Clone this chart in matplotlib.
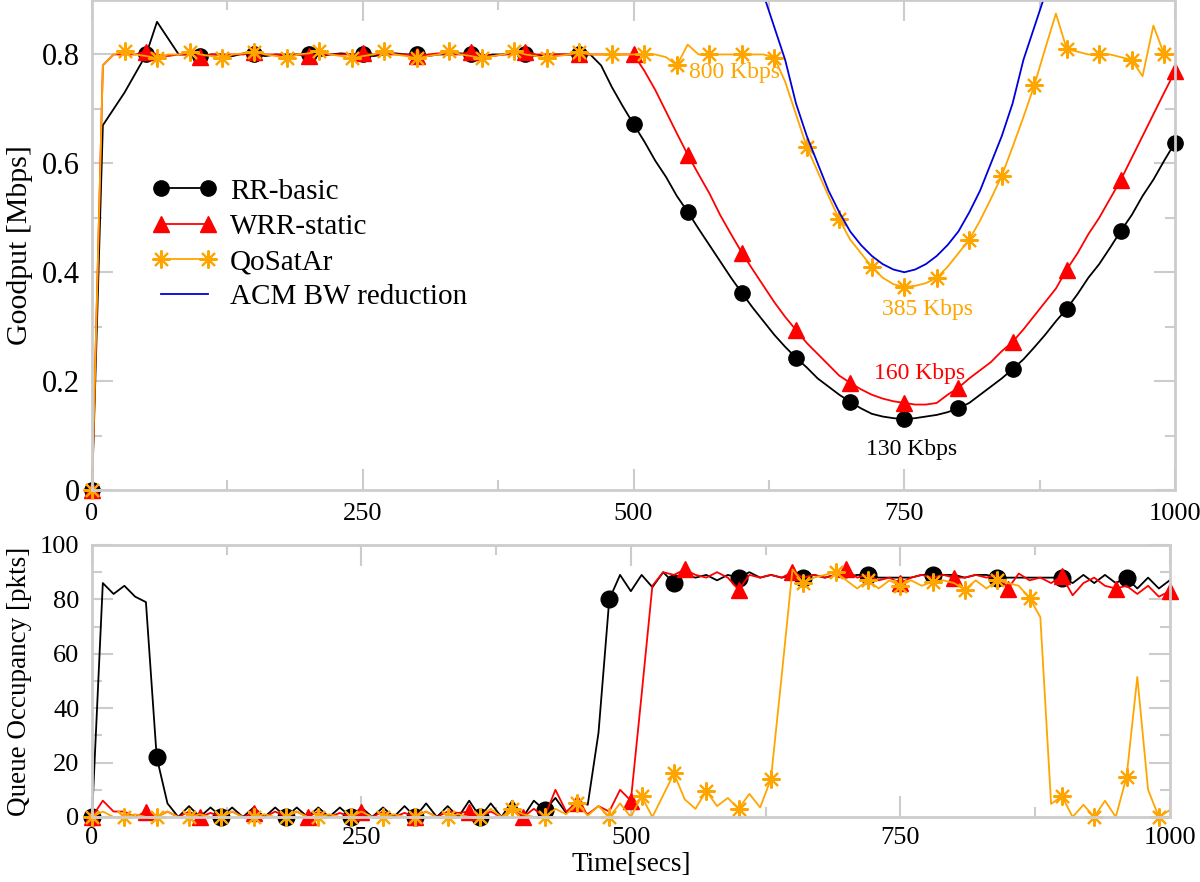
import numpy as np
import matplotlib.pyplot as plt
from matplotlib.ticker import MultipleLocator

plt.rcParams['font.family'] = ['Liberation Serif', 'DejaVu Serif']

# sample times (s), one sample every 10 s
t = np.arange(0, 1001, 10)

# goodput [Mbps]
rr_gp = [0, 0.67, 0.70, 0.73, 0.765, 0.80, 0.86, 0.83, 0.80, 0.80,
         0.797, 0.80, 0.80, 0.797, 0.802, 0.80, 0.797, 0.80, 0.80, 0.80,
         0.80, 0.797, 0.80, 0.802, 0.80, 0.80, 0.797, 0.80, 0.802, 0.80,
         0.80, 0.797, 0.80, 0.80, 0.802, 0.80, 0.797, 0.80, 0.80, 0.802,
         0.80, 0.797, 0.80, 0.80, 0.80, 0.80, 0.80, 0.78, 0.74, 0.705,
         0.672, 0.64, 0.605, 0.575, 0.54, 0.511, 0.48, 0.45, 0.42, 0.39,
         0.362, 0.335, 0.31, 0.285, 0.263, 0.243, 0.225, 0.205, 0.19, 0.175,
         0.162, 0.15, 0.14, 0.135, 0.132, 0.13, 0.132, 0.135, 0.138, 0.143,
         0.15, 0.16, 0.175, 0.19, 0.205, 0.222, 0.24, 0.262, 0.285, 0.31,
         0.333, 0.36, 0.39, 0.415, 0.445, 0.476, 0.505, 0.54, 0.57, 0.605,
         0.638]
wrr_gp = [0, 0.78, 0.80, 0.80, 0.80, 0.805, 0.80, 0.797, 0.80, 0.80,
          0.795, 0.80, 0.80, 0.80, 0.80, 0.805, 0.80, 0.80, 0.797, 0.80,
          0.797, 0.80, 0.80, 0.80, 0.80, 0.802, 0.80, 0.80, 0.80, 0.80,
          0.797, 0.80, 0.802, 0.80, 0.80, 0.805, 0.80, 0.797, 0.80, 0.80,
          0.805, 0.80, 0.80, 0.80, 0.80, 0.80, 0.80, 0.80, 0.80, 0.80,
          0.80, 0.77, 0.735, 0.695, 0.655, 0.616, 0.58, 0.545, 0.505, 0.47,
          0.436, 0.405, 0.375, 0.345, 0.318, 0.294, 0.27, 0.25, 0.23, 0.21,
          0.197, 0.185, 0.175, 0.168, 0.163, 0.16, 0.157, 0.157, 0.16, 0.175,
          0.188, 0.205, 0.22, 0.235, 0.255, 0.272, 0.295, 0.32, 0.345, 0.37,
          0.405, 0.435, 0.47, 0.5, 0.535, 0.57, 0.61, 0.65, 0.69, 0.73,
          0.769]
qos_gp = [0, 0.78, 0.80, 0.806, 0.80, 0.797, 0.793, 0.80, 0.80, 0.805,
          0.80, 0.797, 0.793, 0.80, 0.802, 0.805, 0.80, 0.797, 0.793, 0.80,
          0.802, 0.806, 0.80, 0.797, 0.793, 0.797, 0.80, 0.806, 0.80, 0.797,
          0.793, 0.797, 0.80, 0.806, 0.80, 0.797, 0.793, 0.797, 0.80, 0.806,
          0.80, 0.797, 0.793, 0.797, 0.80, 0.804, 0.80, 0.80, 0.80, 0.80,
          0.80, 0.80, 0.80, 0.795, 0.78, 0.818, 0.80, 0.80, 0.80, 0.80,
          0.80, 0.80, 0.80, 0.794, 0.75, 0.69, 0.63, 0.585, 0.54, 0.497,
          0.46, 0.435, 0.41, 0.39, 0.378, 0.373, 0.375, 0.38, 0.39, 0.41,
          0.435, 0.46, 0.495, 0.535, 0.577, 0.63, 0.685, 0.743, 0.81, 0.875,
          0.81, 0.805, 0.80, 0.80, 0.80, 0.795, 0.79, 0.76, 0.853, 0.80,
          0.80]

# available bandwidth after ACM reduction
acm_t = np.arange(610, 891, 10)
acm_bw = [0.97, 0.91, 0.85, 0.79, 0.71, 0.65, 0.60, 0.55, 0.51, 0.475,
          0.45, 0.43, 0.415, 0.405, 0.40, 0.405, 0.415, 0.43, 0.45, 0.475,
          0.51, 0.55, 0.60, 0.65, 0.71, 0.79, 0.85, 0.91, 0.97]

# queue occupancy [pkts]
rr_q = [0, 86, 82, 85, 81, 79, 22, 5, 0, 4,
        0, 3.5, 0, 3.5, 0, 3.5, 0, 3.5, 0, 3.5,
        0, 3.5, 0, 3.5, 0, 3.5, 0, 3.5, 0, 4,
        0, 5, 0, 4, 0, 6, 0, 5, 0, 6,
        0, 6, 2.5, 7, 1.5, 6, 4.5, 31, 80, 89,
        83, 89, 84.5, 90, 86, 89, 88, 89, 87, 89,
        88, 90, 88, 89, 88, 89, 88, 89, 88, 89,
        88, 89, 89, 88, 88, 88, 88, 89, 89, 89,
        89, 88, 89, 89, 88, 88, 88, 88, 88, 88,
        88, 86, 89, 86, 89, 86, 88, 84, 88, 84,
        87]
wrr_q = [0, 6, 2, 2, 0, 2, 0, 2, 0, 2,
         0, 1.5, 0, 2, 0, 1.5, 0, 2, 0, 2,
         0, 2, 0, 1.5, 0, 2, 0, 2, 0, 1.5,
         0, 2, 0, 2, 1.5, 2, 0, 2, 0, 3,
         0, 3, 0, 10, 2, 5, 1, 4, 2, 10,
         6, 45, 85, 90, 89, 91, 89, 88, 90, 88,
         83.5, 89, 88, 89, 88, 90, 88, 89, 88, 89,
         91, 88, 89, 87, 88, 86, 88, 89, 88, 89,
         88, 88, 89, 88, 89, 84, 89.5, 87, 88, 86,
         88.5, 81.5, 86, 88, 85, 84, 85, 82, 85, 81,
         83]
qos_q = [0, 2, 0, 0, 1, 0, 0, 2, 0, 0,
         1, 0, 0, 2, 0, 0, 1, 0, 0, 2,
         0, 0, 1, 0, 0, 2, 0, 0, 1, 0,
         0, 2, 0, 0, 1, 0, 0, 3, 0, 3,
         1, 0, 0, 3, 1, 5, 0.5, 4, 0, 5,
         0, 7.6, 0, 8, 16, 6.5, 3, 9.6, 4, 7,
         3, 8.5, 3.5, 14, 52, 91, 86, 88, 89, 90,
         87, 84, 87, 84, 87, 85, 87, 85, 86.5, 87,
         86, 83.5, 87, 84, 87, 86, 85, 80.5, 73.5, 4.8,
         7.7, 0, 4.5, 0, 6, 0, 14.7, 51.5, 10, 0,
         2.5]

labels = ['RR-basic', 'WRR-static', 'QoSatAr', 'ACM BW reduction']
orange = '#ffa500'
grey = '#cccccc'
star = (8, 2, 0)


def style_axes(ax, xtick_size, ytick_size):
    for s in ax.spines.values():
        s.set_color(grey)
        s.set_linewidth(2)
    ax.tick_params(which='both', direction='in', color=grey, width=1.5,
                   top=True, right=True, pad=9)
    ax.tick_params(which='major', length=15)
    ax.tick_params(which='minor', length=7)
    ax.tick_params(axis='x', labelsize=xtick_size)
    ax.tick_params(axis='y', labelsize=ytick_size)
    ax.set_xlim(0, 1000)
    ax.xaxis.set_major_locator(MultipleLocator(250))
    ax.xaxis.set_minor_locator(MultipleLocator(125))


fig = plt.figure(figsize=(12, 8.82), dpi=100)

# ---- goodput
ax1 = fig.add_axes([0.0767, 0.4444, 0.9025, 0.5556])
ax1.plot(t, rr_gp, color='black', lw=1.3, marker='o', ms=11, markevery=5,
         clip_on=False, label=labels[0])
ax1.plot(t, wrr_gp, color='red', lw=1.3, marker='^', ms=12, markevery=5,
         clip_on=False, label=labels[1])
ax1.plot(t, qos_gp, color=orange, lw=1.3, marker=star, ms=13, mew=1.5,
         markevery=3, clip_on=False, label=labels[2])
ax1.plot(acm_t, acm_bw, color='#0000dd', lw=1.3, label=labels[3])
style_axes(ax1, 19, 22)
ax1.set_ylim(0, 0.9)
ax1.yaxis.set_major_locator(MultipleLocator(0.2))
ax1.yaxis.set_minor_locator(MultipleLocator(0.1))
ax1.set_yticks([0, 0.2, 0.4, 0.6, 0.8], ['0', '0.2', '0.4', '0.6', '0.8'])
ax1.set_xticks([0, 250, 500, 750, 1000], ['0', '250', '500', '750', '1000'])
ax1.set_ylabel('Goodput [Mbps]', fontsize=21.5, labelpad=6)
ax1.legend(loc='upper left', bbox_to_anchor=(0.045, 0.66), frameon=False,
           numpoints=2, handlelength=2.2, fontsize=21, labelspacing=0.3,
           handletextpad=0.45, borderaxespad=0)

ax1.text(593, 0.767, '800 Kbps', color=orange, fontsize=17, ha='center', va='center')
ax1.text(771, 0.331, '385 Kbps', color=orange, fontsize=17, ha='center', va='center')
ax1.text(764, 0.214, '160 Kbps', color='red', fontsize=17, ha='center', va='center')
ax1.text(757, 0.074, '130 Kbps', color='black', fontsize=17, ha='center', va='center')

# ---- queue occupancy
ax2 = fig.add_axes([0.0767, 0.0737, 0.898, 0.3084])
ax2.plot(t, rr_q, color='black', lw=1.3, marker='o', ms=12, markevery=6,
         clip_on=False)
ax2.plot(t, wrr_q, color='red', lw=1.3, marker='^', ms=12, markevery=5,
         clip_on=False)
ax2.plot(t, qos_q, color=orange, lw=1.3, marker=star, ms=13, mew=1.5,
         markevery=3, clip_on=False)
style_axes(ax2, 19, 19)
ax2.tick_params(axis='x', pad=7)
ax2.set_ylim(0, 100)
ax2.yaxis.set_major_locator(MultipleLocator(20))
ax2.yaxis.set_minor_locator(MultipleLocator(10))
ax2.set_ylabel('Queue Occupancy [pkts]', fontsize=19.5, labelpad=6)
ax2.set_xlabel('Time[secs]', fontsize=19.5)
ax2.xaxis.set_label_coords(0.5, -0.128)

fig.savefig('out.png', dpi=100)
